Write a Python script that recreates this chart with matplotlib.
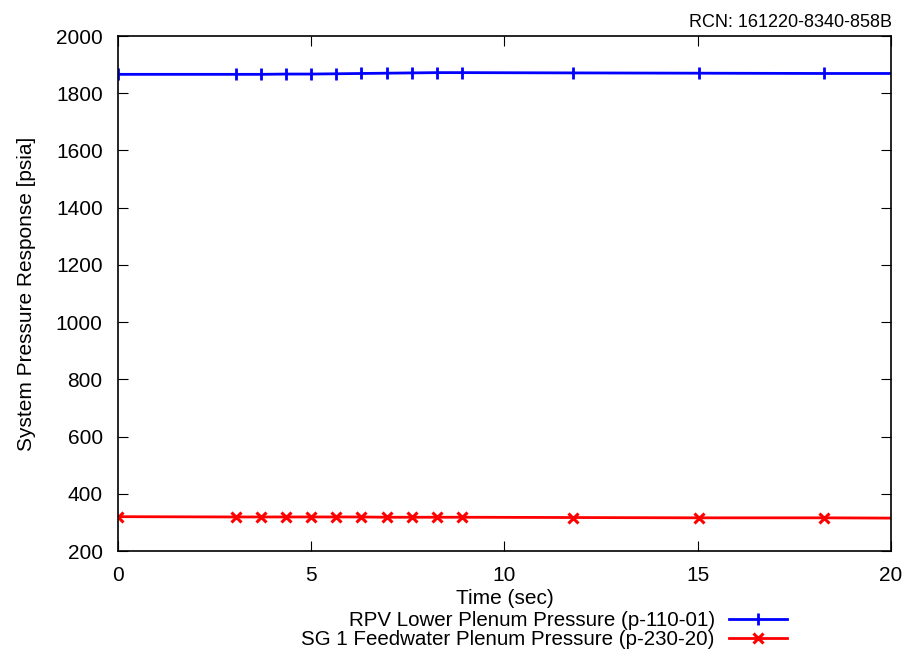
import matplotlib
matplotlib.use('Agg')
import matplotlib.pyplot as plt

# time (sec) of plotted points
t = [0.0, 3.05, 3.70, 4.35, 5.0, 5.65, 6.30, 6.95, 7.60, 8.26, 8.90, 11.76, 15.02, 18.27, 20.0]
# pressures [psia]
rpv = [1866, 1866, 1866, 1867, 1867, 1868, 1869, 1870, 1871, 1872, 1872, 1871, 1870, 1869, 1869]
sg = [320, 319, 319, 319, 319, 319, 319, 318, 318, 318, 318, 317, 316, 316, 315]
# the last point is the line end, not a marker
mark = list(range(len(t) - 1))

plt.rcParams['font.family'] = ['Liberation Sans', 'DejaVu Sans']
fig = plt.figure(figsize=(9.09, 6.51), dpi=100)
ax = fig.add_axes([0.1298, 0.1536, 0.8504, 0.7911])

ax.plot(t, rpv, color='#0000ff', lw=2, marker='|', ms=9, mew=2, markevery=mark,
        label='RPV Lower Plenum Pressure (p-110-01)')
ax.plot(t, sg, color='#ff0000', lw=2, marker='x', ms=7, mew=2.2, markevery=mark,
        label='SG 1 Feedwater Plenum Pressure (p-230-20)')

ax.set_xlim(0, 20)
ax.set_ylim(200, 2000)
ax.set_xticks([0, 5, 10, 15, 20])
ax.set_yticks(range(200, 2001, 200))
ax.tick_params(direction='in', top=True, right=True, length=7, labelsize=15, pad=11)
for s in ax.spines.values():
    s.set_linewidth(1.2)

ax.set_xlabel('Time (sec)', fontsize=15, labelpad=3)
ax.set_ylabel('System Pressure Response [psia]', fontsize=15, labelpad=14)

fig.text(0.981, 0.966, 'RCN: 161220-8340-858B', ha='right', va='center', fontsize=13)

fig.legend(loc='upper right', bbox_to_anchor=(0.866, 0.061), markerfirst=False,
           frameon=False, fontsize=14.8, handlelength=2.85, labelspacing=0.0,
           borderpad=0, borderaxespad=0, handletextpad=0.68,
           bbox_transform=fig.transFigure)

fig.savefig('out.png', dpi=100)
